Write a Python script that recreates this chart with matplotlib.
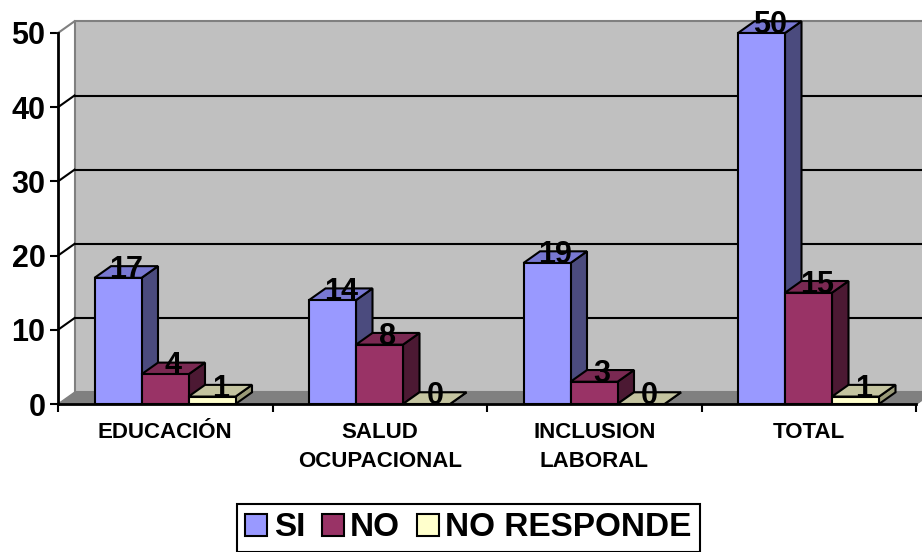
import numpy as np
import matplotlib.pyplot as plt
from matplotlib.patches import Polygon, Patch

plt.rcParams['font.family'] = ['Liberation Sans', 'DejaVu Sans']
plt.rcParams['font.weight'] = 'bold'

categories = ['EDUCACIÓN', 'SALUD\nOCUPACIONAL', 'INCLUSION\nLABORAL', 'TOTAL']
series_names = ['SI', 'NO', 'NO RESPONDE']
si = [17, 14, 19, 50]
no = [4, 8, 3, 15]
no_responde = [1, 0, 0, 1]
y_ticks = [0, 10, 20, 30, 40, 50]

# front, top, side shades for each series
colors = [
    ('#9999FF', '#7878D2', '#4B4B7E'),
    ('#993366', '#7A2952', '#4C1933'),
    ('#FFFFCC', '#C4C4A0', '#9A9A78'),
]

fig = plt.figure(figsize=(9.22, 5.52), dpi=100)
ax = fig.add_axes([58 / 922, 148 / 552, 858 / 922, 371 / 552])
ax.set_xlim(0, 4)
ax.set_ylim(0, 50)

# depth offset of the 3d look, in data units
dx = 16.5 / 214.5
dy = 11.7 / 7.42

# back wall and floor
ax.add_patch(Polygon([(dx, dy), (4 + dx, dy), (4 + dx, 50 + dy), (dx, 50 + dy)],
                     closed=True, facecolor='#C0C0C0', edgecolor='#808080',
                     lw=1.5, clip_on=False, zorder=1))
ax.add_patch(Polygon([(0, 0), (4, 0), (4 + dx, dy), (dx, dy)], closed=True,
                     facecolor='#808080', edgecolor='#808080', lw=1,
                     clip_on=False, zorder=2))
for v in y_ticks[1:]:
    c = 'black' if v < 50 else '#808080'
    ax.plot([0, dx], [v, v + dy], color=c, lw=1.5, clip_on=False, zorder=2)
    if v < 50:
        ax.plot([dx, 4 + dx], [v + dy, v + dy], color='black', lw=1.5,
                clip_on=False, zorder=2)


def bar3d(x0, w, h, fc, tc, sc):
    kw = dict(closed=True, edgecolor='black', lw=1.5, clip_on=False, zorder=3,
              joinstyle='miter')
    ax.add_patch(Polygon([(x0 + w, 0), (x0 + w + dx, dy), (x0 + w + dx, h + dy),
                          (x0 + w, h)], facecolor=sc, **kw))
    ax.add_patch(Polygon([(x0, h), (x0 + w, h), (x0 + w + dx, h + dy),
                          (x0 + dx, h + dy)], facecolor=tc, **kw))
    if h > 0:
        ax.add_patch(Polygon([(x0, 0), (x0 + w, 0), (x0 + w, h), (x0, h)],
                             facecolor=fc, **kw))


bw = 47 / 214.5
start = 36.5 / 214.5
for i in range(len(categories)):
    for j, vals in enumerate([si, no, no_responde]):
        x0 = i + start + j * bw
        bar3d(x0, bw, vals[i], *colors[j])
        ax.text(x0 + bw / 2 + dx / 2, vals[i], str(vals[i]), ha='center',
                va='baseline', fontsize=22, fontweight='bold', zorder=10,
                clip_on=False)

# axes lines
for s in ax.spines.values():
    s.set_visible(False)
ax.plot([0, 0], [0, 50], color='black', lw=2, clip_on=False, zorder=4)
ax.plot([0, 4], [0, 0], color='black', lw=2, clip_on=False, zorder=4)
ax.plot([4, 4 + dx], [0, dy], color='#808080', lw=1.5, clip_on=False, zorder=2)

ax.set_yticks(y_ticks)
ax.set_yticklabels([str(v) for v in y_ticks], fontsize=22, fontweight='bold')
ax.tick_params(axis='y', length=6, width=1.5, pad=3)
ax.set_xticks(np.arange(0, 5))
ax.set_xticklabels([])
ax.tick_params(axis='x', which='major', length=6, width=1.5, direction='out')
ax.set_xticks(np.arange(len(categories)) + 0.5, minor=True)
ax.set_xticklabels(categories, minor=True, fontsize=16, fontweight='bold',
                   linespacing=1.5)
ax.tick_params(axis='x', which='minor', length=0, pad=13)
ax.set_facecolor('none')

handles = [Patch(facecolor=c[0], edgecolor='black', lw=1.5) for c in colors]
leg = fig.legend(handles, series_names, loc='center', bbox_to_anchor=(468.5 / 922, 1 - 528 / 552),
                 ncol=3, prop={'weight': 'bold', 'size': 24},
                 handlelength=0.65, handleheight=0.65, handletextpad=0.2,
                 columnspacing=0.5, borderpad=0.25, fancybox=False, framealpha=1)
leg.get_frame().set_edgecolor('black')
leg.get_frame().set_linewidth(1.5)

fig.savefig('out.png', dpi=100)
